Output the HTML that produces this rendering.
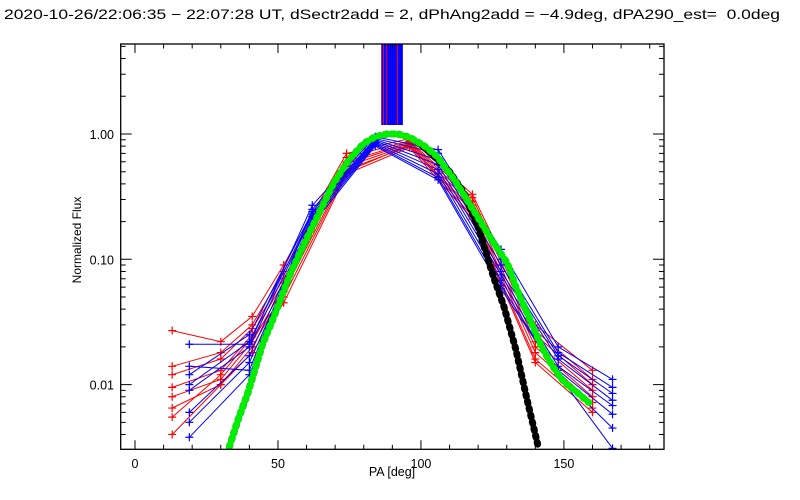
<!DOCTYPE html>
<html><head><meta charset="utf-8">
<style>
html,body{margin:0;padding:0;background:#fff;}
svg{display:block;font-family:"Liberation Sans","DejaVu Sans",sans-serif;}
</style></head>
<body>
<svg id="chart" width="800" height="500" viewBox="0 0 800 500">
<text x="4" y="19" font-size="14" style="white-space:pre" textLength="776" lengthAdjust="spacingAndGlyphs">2020-10-26/22:06:35 − 22:07:28 UT, dSectr2add = 2, dPhAng2add = −4.9deg, dPA290_est=  0.0deg</text>
<text transform="translate(81,240) rotate(-90)" font-size="12" text-anchor="middle">Normalized Flux</text>
<text x="392" y="476" font-size="12.5" text-anchor="middle">PA [deg]</text>
<g id="plot"></g>
</svg>
<script>
// ---- data ----
const xTicks = [0, 50, 100, 150];
const yTicks = [0.01, 0.1, 1];
const yTickLabels = ["0.01", "0.10", "1.00"];

const redPA = [13, 30, 41, 52, 74, 96, 118, 140, 160];
const red1 = [0.027, 0.022, 0.035, 0.09, 0.70, 0.92, 0.33, 0.030, 0.013];
const red2 = [0.014, 0.018, 0.030, 0.08, 0.65, 0.88, 0.31, 0.027, 0.011];
const red3 = [0.012, 0.016, 0.028, 0.07, 0.60, 0.86, 0.29, 0.025, 0.010];
const red4 = [0.0095, 0.013, 0.025, 0.065, 0.58, 0.84, 0.27, 0.022, 0.009];
const red5 = [0.008, 0.011, 0.022, 0.06, 0.55, 0.82, 0.25, 0.020, 0.008];
const red6 = [0.0065, 0.010, 0.020, 0.055, 0.52, 0.80, 0.24, 0.018, 0.0072];
const red7 = [0.0055, 0.012, 0.024, 0.05, 0.50, 0.82, 0.22, 0.016, 0.0065];
const red8 = [0.004, 0.010, 0.018, 0.045, 0.48, 0.78, 0.21, 0.015, 0.006];

const bluePA = [19, 40, 62, 84, 106, 128, 148, 167];
const blue1 = [0.021, 0.021, 0.27, 0.95, 0.75, 0.12, 0.020, 0.011];
const blue2 = [0.014, 0.013, 0.25, 0.92, 0.70, 0.10, 0.018, 0.0095];
const blue3 = [0.012, 0.025, 0.24, 0.90, 0.62, 0.09, 0.017, 0.0085];
const blue4 = [0.010, 0.022, 0.23, 0.88, 0.57, 0.08, 0.016, 0.0075];
const blue5 = [0.009, 0.020, 0.22, 0.86, 0.52, 0.075, 0.014, 0.0068];
const blue6 = [0.006, 0.017, 0.21, 0.84, 0.48, 0.068, 0.013, 0.0058];
const blue7 = [0.005, 0.015, 0.20, 0.82, 0.45, 0.062, 0.012, 0.0045];
const blue8 = [0.0038, 0.012, 0.19, 0.80, 0.43, 0.058, 0.012, 0.0031];

const greenPA = [33, 36, 39.4, 44.6, 48.6, 54.4, 61.4, 69.6, 75, 80, 84, 88.3, 92, 96.4, 101, 105.7, 112, 119.7, 125, 130.2, 133.5, 137.2, 142.2, 146, 150, 155, 158.7];
const greenVal = [0.0032, 0.0052, 0.0085, 0.021, 0.035, 0.078, 0.17, 0.41, 0.63, 0.84, 0.95, 1.0, 1.0, 0.93, 0.81, 0.66, 0.42, 0.22, 0.14, 0.093, 0.058, 0.037, 0.020, 0.014, 0.0105, 0.0085, 0.0072];
const blackPA = [33, 36, 39.4, 44.6, 48.6, 54.4, 61.4, 69.6, 75, 80, 84, 88.3, 92, 96.4, 101, 105.7, 110, 115, 120, 125.4, 129, 133.2, 137.1, 141];
const blackVal = [0.0032, 0.0052, 0.0085, 0.021, 0.035, 0.078, 0.17, 0.41, 0.63, 0.84, 0.95, 1.0, 1.0, 0.93, 0.79, 0.63, 0.50, 0.34, 0.18, 0.072, 0.042, 0.019, 0.0076, 0.0032];

const bandBluePA = [86.5, 87.2, 87.9, 88.6, 89.3, 90.0, 90.7, 91.4, 92.1, 92.8, 93.3];
const bandRedPA = [86.9, 88.0, 91.8];
const bandTopVal = 1.18;

// ---- axes ----
const L = 120.7, R = 664, T = 44, B = 449.3;
const xMin = -5, xMax = 185;
function xs(v){ return L + (v - xMin) / (xMax - xMin) * (R - L); }
function ys(v){ return 134 - 125.3 * Math.log10(v); }
const NS = "http://www.w3.org/2000/svg";
const g = document.getElementById('plot');
function mk(tag, attrs, parent){
  const e = document.createElementNS(NS, tag);
  for (const k in attrs) e.setAttribute(k, attrs[k]);
  (parent || g).appendChild(e);
  return e;
}
const clipDef = mk('defs', {});
const cp = mk('clipPath', {id: 'pc'}, clipDef);
mk('rect', {x: L, y: T, width: R - L, height: B - T}, cp);
const data = mk('g', {'clip-path': 'url(#pc)'});



function series(pa, vals, color, name){
  const pts = pa.map((p, i) => xs(p).toFixed(1) + ',' + ys(vals[i]).toFixed(1)).join(' ');
  const pl = mk('polyline', {points: pts, fill: 'none', stroke: color, 'stroke-width': 1}, data);
  
  
  pa.forEach((p, i) => {
    const x = xs(p), y = ys(vals[i]);
    const m = mk('path', {d: `M${x-4},${y}H${x+4}M${x},${y-4}V${y+4}`, stroke: color, 'stroke-width': 1.2}, data);
    
    
  });
}
[red1, red2, red3, red4, red5, red6, red7, red8].forEach((s, i) => series(redPA, s, '#ff0000', 'red-series-' + (i + 1)));
[blue1, blue2, blue3, blue4, blue5, blue6, blue7, blue8].forEach((s, i) => series(bluePA, s, '#0000ff', 'blue-series-' + (i + 1)));

function thick(pa, vals, color, name){
  const pts = pa.map((p, i) => xs(p).toFixed(1) + ',' + ys(vals[i]).toFixed(1)).join(' ');
  const pl = mk('polyline', {points: pts, fill: 'none', stroke: color, 'stroke-width': 7, 'stroke-linecap': 'round', 'stroke-linejoin': 'round', 'stroke-dasharray': '2 5'}, data);
  
  
}
thick(blackPA, blackVal, '#000000', 'black-model-curve');
thick(greenPA, greenVal, '#00ee00', 'green-model-curve');

bandBluePA.forEach(p => {
  const l = mk('line', {x1: xs(p), x2: xs(p), y1: T, y2: ys(bandTopVal), stroke: '#0000ff', 'stroke-width': 2.2}, data);
  
  
});
bandRedPA.forEach(p => {
  const l = mk('line', {x1: xs(p), x2: xs(p), y1: T, y2: ys(bandTopVal), stroke: '#ff0000', 'stroke-width': 1}, data);
  
  
});

// frame
const fr = mk('rect', {x: L, y: T, width: R - L, height: B - T, fill: 'none', stroke: '#000', 'stroke-width': 1.3});



// x ticks
for (let v = 0; v <= 180; v += 10){
  const major = v % 50 === 0;
  const len = major ? 9 : 4.5;
  const x = xs(v);
  const t = mk('path', {d: `M${x},${B}V${B-len}M${x},${T}V${T+len}`, stroke: '#000', 'stroke-width': 1});
  
  
}
xTicks.forEach(v => {
  const t = mk('text', {x: xs(v), y: 468, 'font-size': 12.5, 'text-anchor': 'middle'});
  t.textContent = String(v);
  
  
});
// y ticks
for (let d = -3; d <= 0; d++){
  for (let m = 1; m <= 9; m++){
    const v = m * Math.pow(10, d);
    const y = ys(v);
    if (y < T || y > B) continue;
    const len = m === 1 ? 11 : 5;
    const t = mk('path', {d: `M${L},${y}H${L+len}M${R},${y}H${R-len}`, stroke: '#000', 'stroke-width': 1});
    
    
  }
}
yTicks.forEach((v, i) => {
  const t = mk('text', {x: 114, y: ys(v) + 5, 'font-size': 12.5, 'text-anchor': 'end'});
  t.textContent = yTickLabels[i];
  
  
});
</script>
</body></html>
